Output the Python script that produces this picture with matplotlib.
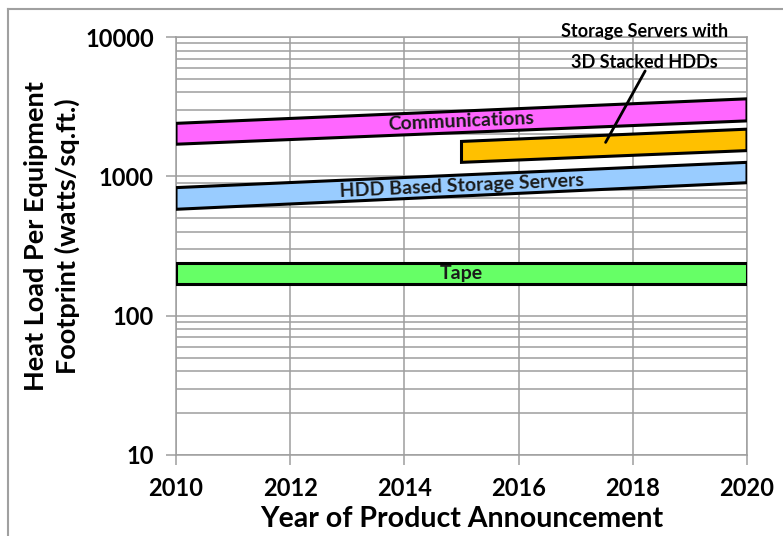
import numpy as np
import matplotlib
matplotlib.use('Agg')
import matplotlib.pyplot as plt
from matplotlib.patches import Polygon
from matplotlib.lines import Line2D
from matplotlib.ticker import FixedLocator, LogLocator, NullFormatter, FuncFormatter

plt.rcParams['font.family'] = ['Lato', 'DejaVu Sans']
plt.rcParams['font.weight'] = 'bold'

# band data: (name, start year, end year, low@start, high@start, low@end, high@end)
band_names = ['Communications', 'Storage Servers with 3D Stacked HDDs', 'HDD Based Storage Servers', 'Tape']
band_start = [2010, 2015, 2010, 2010]
band_end = [2020, 2020, 2020, 2020]
low_start = [1700, 1260, 580, 170]
high_start = [2400, 1780, 830, 240]
low_end = [2500, 1530, 900, 170]
high_end = [3600, 2180, 1260, 240]
band_colors = ['#FF66FF', '#FFC000', '#99CCFF', '#66FF66']
band_labels = ['Communications', None, 'HDD Based Storage Servers', 'Tape']

# callout for the 3D stacked band
callout_text = 'Storage Servers with\n3D Stacked HDDs'
callout_text_xy = (2018.2, 8500)
callout_line_from = (2018.24, 5940)
callout_line_to = (2017.5, 1683)

x_ticks = [2010, 2012, 2014, 2016, 2018, 2020]
y_ticks = [10, 100, 1000, 10000]

fig = plt.figure(figsize=(7.83, 5.36), dpi=100)
ax = fig.add_axes([176/783, 1-455/536, (747-176)/783, (455-37)/536])

ax.set_yscale('log')
ax.set_xlim(2010, 2020)
ax.set_ylim(10, 10000)

ax.xaxis.set_major_locator(FixedLocator(x_ticks))
ax.yaxis.set_major_locator(FixedLocator(y_ticks))
ax.yaxis.set_minor_locator(LogLocator(base=10, subs=np.arange(2, 10)))
ax.yaxis.set_minor_formatter(NullFormatter())
ax.yaxis.set_major_formatter(FuncFormatter(lambda v, p: '%d' % v))

grid_col = '#9E9E9E'
ax.grid(True, which='major', axis='both', color=grid_col, lw=1.1)
ax.grid(True, which='minor', axis='y', color=grid_col, lw=1.1)
ax.set_axisbelow(True)
for s in ax.spines.values():
    s.set_color(grid_col)
    s.set_linewidth(1.1)
ax.tick_params(axis='both', which='major', length=7, color=grid_col, width=1.1,
               labelsize=17, pad=9)
ax.tick_params(axis='y', which='minor', length=0)

for lbl in ax.get_xticklabels() + ax.get_yticklabels():
    lbl.set_fontweight('bold')

# draw bands as parallelograms
for i in range(len(band_names)):
    x0, x1 = band_start[i], band_end[i]
    pts = [(x0, low_start[i]), (x1, low_end[i]), (x1, high_end[i]), (x0, high_start[i])]
    ax.add_patch(Polygon(pts, closed=True, facecolor=band_colors[i],
                         edgecolor='black', lw=2.2, zorder=3))

    if band_labels[i]:
        xm = 2015
        f = (xm - x0) / (x1 - x0)
        lo = np.exp(np.log(low_start[i]) + f * (np.log(low_end[i]) - np.log(low_start[i])))
        hi = np.exp(np.log(high_start[i]) + f * (np.log(high_end[i]) - np.log(high_start[i])))
        ym = np.sqrt(lo * hi)
        # angle of band centre line on screen
        c0 = np.sqrt(low_start[i] * high_start[i])
        c1 = np.sqrt(low_end[i] * high_end[i])
        p0 = ax.transData.transform((x0, c0))
        p1 = ax.transData.transform((x1, c1))
        ang = np.degrees(np.arctan2(p1[1] - p0[1], p1[0] - p0[0]))
        ax.text(xm, ym, band_labels[i], ha='center', va='center', rotation=ang,
                rotation_mode='anchor', fontsize=14, fontweight='bold',
                color='#1a1a1a', zorder=4)

ax.annotate('', xy=callout_line_to, xytext=callout_line_from,
            arrowprops=dict(arrowstyle='-', lw=2, color='black'), zorder=5)
ax.text(callout_text_xy[0], callout_text_xy[1], callout_text, ha='center', va='center',
        fontsize=13, fontweight='bold', linespacing=2.0, clip_on=False, zorder=5)

ax.set_xlabel('Year of Product Announcement', fontsize=20.5, fontweight='bold', labelpad=4)
fig.text(0.066, 0.56, 'Heat Load Per Equipment\nFootprint (watts/sq.ft.)', rotation=90,
         ha='center', va='center', multialignment='center', fontsize=19.5,
         fontweight='bold', linespacing=1.3)

# outer frame (top and left edge visible in original)
fig.add_artist(Line2D([8/783, 8/783], [0, 1-9/536], transform=fig.transFigure, color='#A0A0A0', lw=1.5))
fig.add_artist(Line2D([8/783, 1], [1-9/536, 1-9/536], transform=fig.transFigure, color='#A0A0A0', lw=1.5))

fig.savefig('out.png', dpi=100)
